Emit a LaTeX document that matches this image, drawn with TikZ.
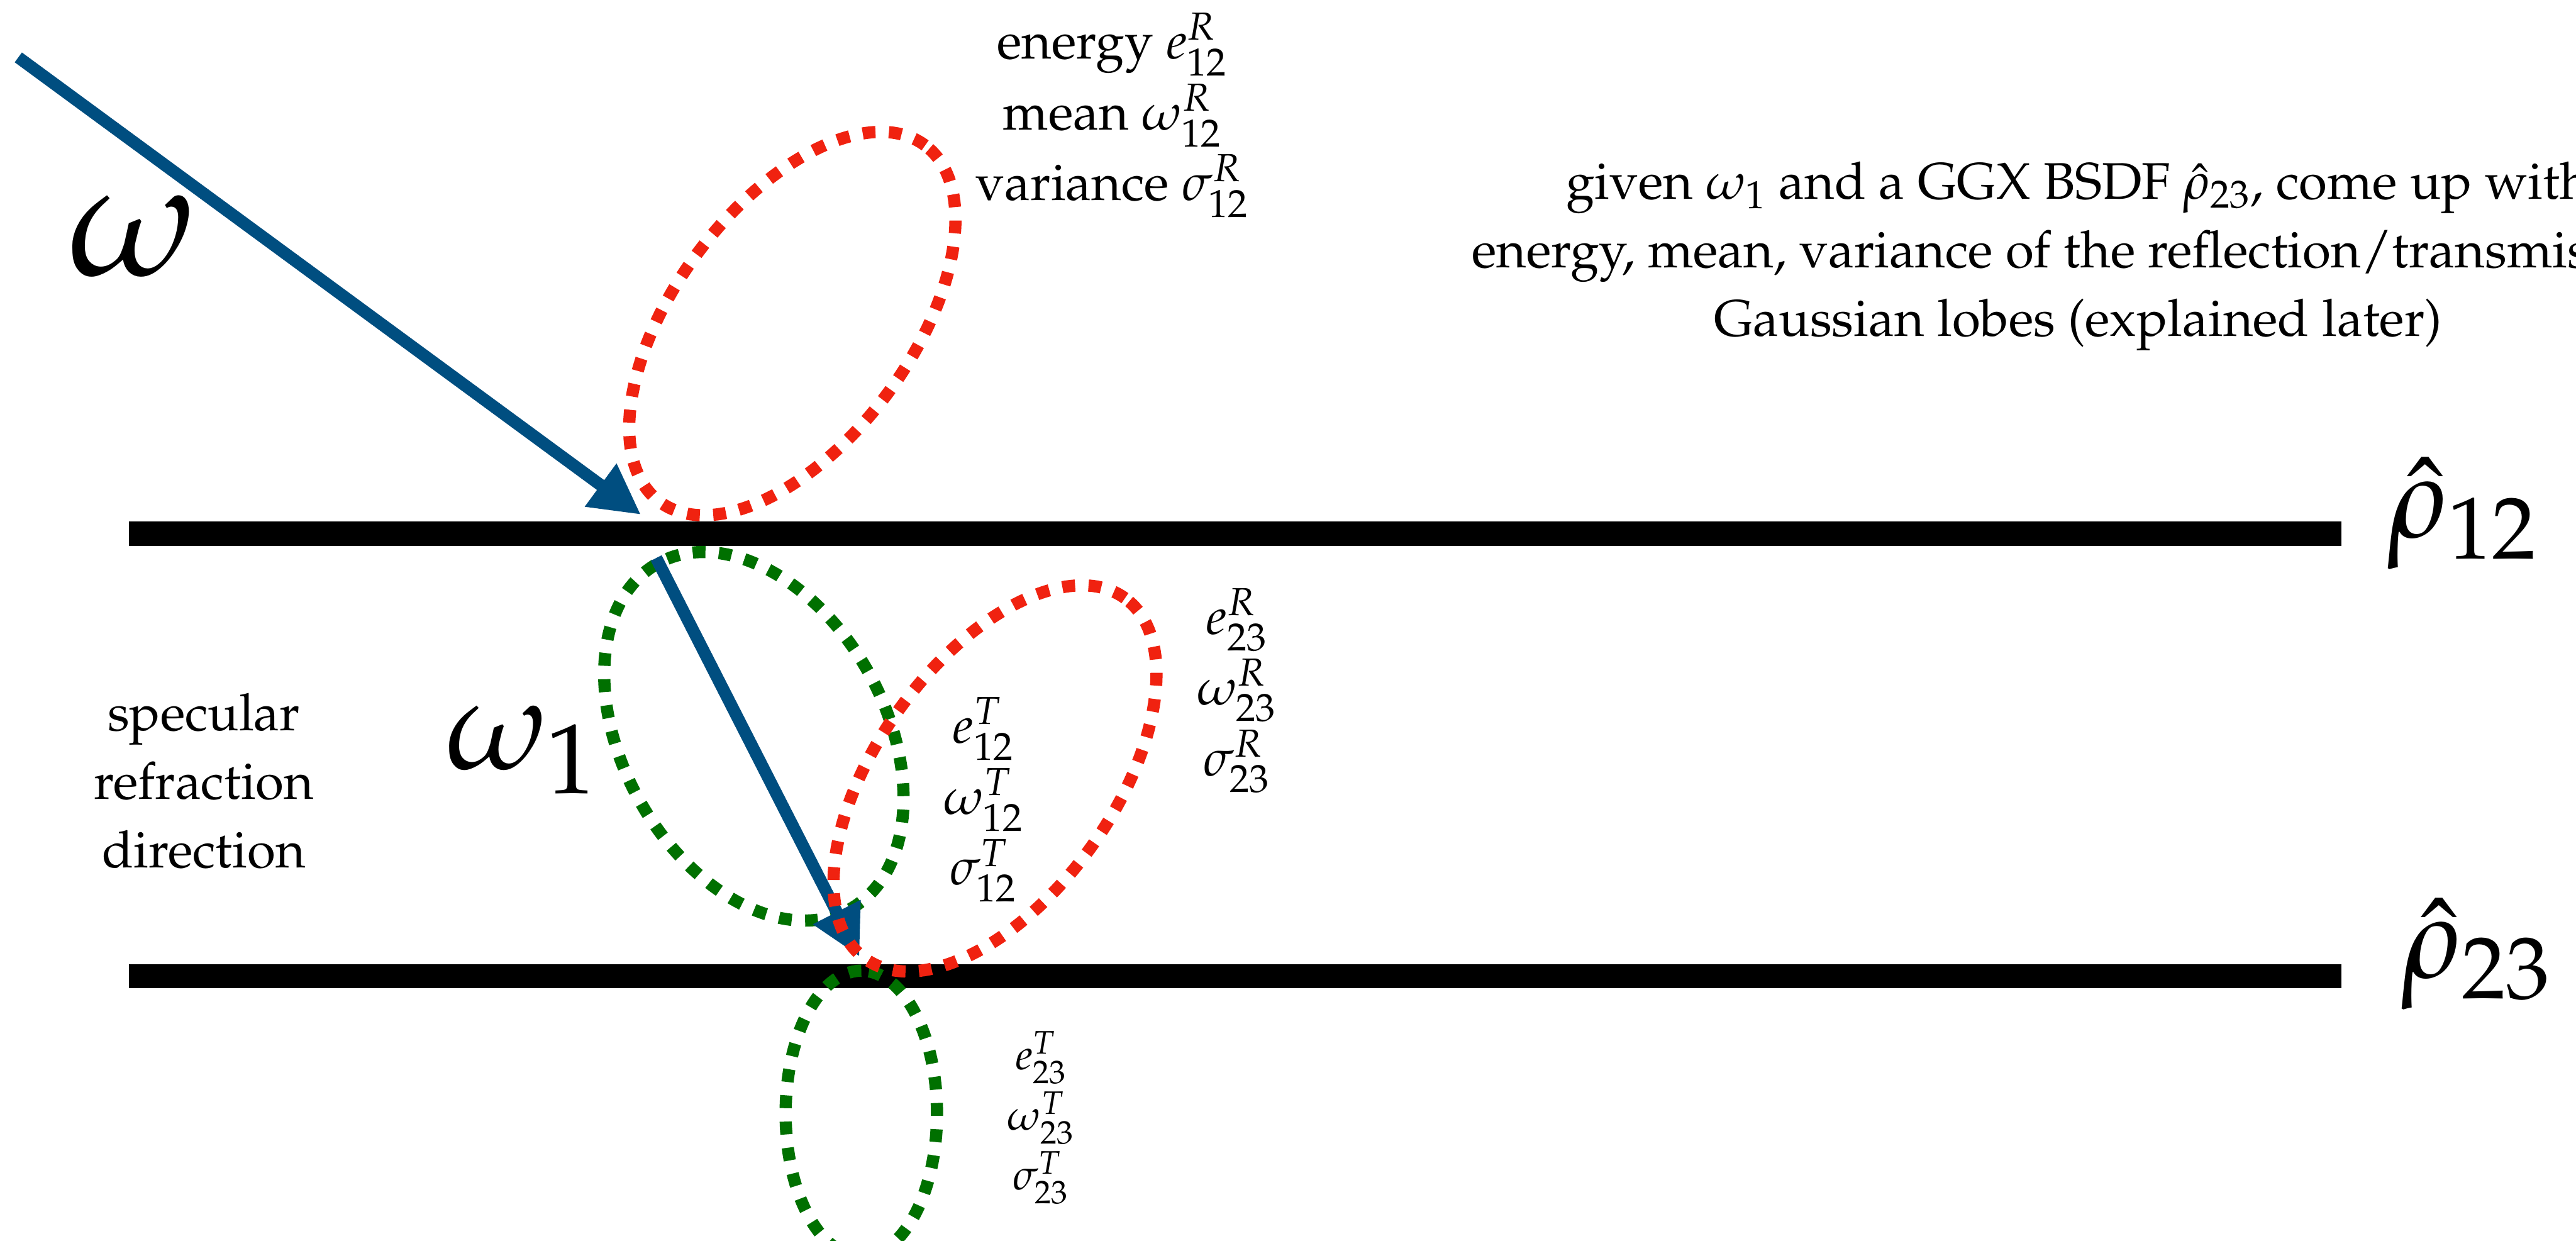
\documentclass[tikz,border=0pt]{standalone}
\usepackage[T1]{fontenc}
\usepackage{mathpazo}
\usepackage{xcolor}
\usepackage{tikz}
\usetikzlibrary{positioning, arrows.meta, shapes.geometric}
\usepackage{amsmath}

\definecolor{rayblue}{RGB}{0,78,128}
\definecolor{lobered}{RGB}{240,34,16}
\definecolor{lobegreen}{RGB}{0,112,0}

\begin{document}
\begin{tikzpicture}[
    iface/.style={line width=0.4cm},
    ray/.style={rayblue, line width=0.2cm, -{Triangle[length=0.82cm, width=0.82cm]}},
    lobe/.style={ellipse, line width=0.2cm, dash pattern=on 0.21cm off 0.22cm, inner sep=0pt, outer sep=0pt},
    rlobe/.style={lobe, draw=lobered, minimum width=7.28cm, minimum height=3.87cm},
    globe/.style={lobe, draw=lobegreen},
    glabel/.style={align=center, font=\fontsize{24}{33}\selectfont},
    big/.style={inner sep=0pt, anchor=base west},
]
\useasboundingbox (0,0) rectangle (42.2,-20.32);

% interfaces
\coordinate (if12w) at (2.11,-8.74);
\coordinate (if12e) at (38.36,-8.74);
\coordinate (if23w) at (2.11,-15.99);
\coordinate (if23e) at (38.36,-15.99);
\draw[iface] (if12w) -- (if12e);
\draw[iface] (if23w) -- (if23e);
\node[big, font=\fontsize{54}{60}\selectfont] (rho12) at (39.10,-8.80) {$\hat{\rho}_{12}$};
\node[big, font=\fontsize{54}{60}\selectfont] (rho23) at (39.33,-16.02) {$\hat{\rho}_{23}$};

% transmission lobes
\node[globe, minimum width=6.48cm, minimum height=4.30cm, rotate=-60.9] (t12) at (12.35,-12.06) {};
\node[globe, minimum width=4.68cm, minimum height=2.48cm, rotate=90] (t23) at (14.11,-18.24) {};

% rays
\coordinate (src) at (0.30,-0.94);
\coordinate (hit12) at (10.50,-8.43);
\coordinate (refr) at (10.75,-9.14);
\coordinate (hit23) at (14.08,-15.67);
\draw[ray] (src) -- (hit12);
\draw[ray] (refr) -- (hit23);
\node[big, font=\fontsize{77}{80}\selectfont] (w) at (1.11,-4.51) {$\omega$};
\node[big, font=\fontsize{61}{64}\selectfont] (w1) at (7.30,-12.60) {$\omega_1$};

% reflection lobes
\node[rlobe, rotate=53.3] (r12) at (12.98,-5.30) {};
\node[rlobe, rotate=54.2] (r23) at (16.30,-12.75) {};

% lobe parameters
\node[glabel] (r12txt) at (18.22,-1.89) {energy $e^R_{12}$\\ mean $\omega^R_{12}$\\ variance $\sigma^R_{12}$};
\node[glabel] (t12txt) at (16.11,-13.10) {$e^T_{12}$\\ $\omega^T_{12}$\\ $\sigma^T_{12}$};
\node[glabel] (r23txt) at (20.26,-11.31) {$e^R_{23}$\\ $\omega^R_{23}$\\ $\sigma^R_{23}$};
\node[glabel, font=\fontsize{20}{28}\selectfont] (t23txt) at (17.05,-18.31) {$e^T_{23}$\\ $\omega^T_{23}$\\ $\sigma^T_{23}$};

\node[glabel, font=\fontsize{24}{32}\selectfont] (spec) at (3.34,-12.79) {specular\\ refraction\\ direction};
\node[glabel, font=\fontsize{24}{32}\selectfont] (task) at (34.04,-4.20) {given $\omega_1$ and a GGX BSDF $\hat{\rho}_{23}$, come up with\\ energy, mean, variance of the reflection/transmission\\ Gaussian lobes (explained later)};
\end{tikzpicture}
\end{document}
